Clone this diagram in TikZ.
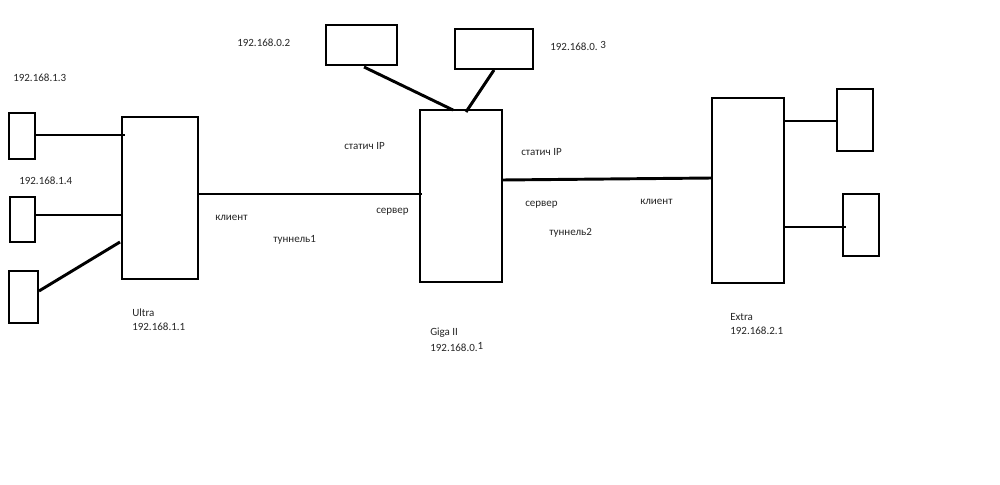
\documentclass[tikz,border=0pt]{standalone}
\usepackage{fontspec}
\setmainfont{Carlito}
\begin{document}
\begin{tikzpicture}[x=0.75pt,y=-0.75pt,
  box/.style={draw=black,line width=2.2pt,fill=none,inner sep=0pt,outer sep=0pt},
  wire/.style={draw=black,line width=2.2pt},
  lbl/.style={anchor=west,inner sep=0pt,font=\fontsize{8.25pt}{9.5pt}\selectfont,text=black!85}]
\useasboundingbox[fill=white] (0,0) rectangle (1000,485);
\newcommand\bx[5]{\node[box,minimum width={(#4-#2)*0.75pt},minimum height={(#5-#3)*0.75pt}] (#1) at ({(#2+#4)/2},{(#3+#5)/2}) {};}
% boxes
\bx{d1}{9}{113}{35}{159}
\bx{d2}{10}{197}{35}{242}
\bx{d3}{9}{271}{38}{323}
\bx{ultra}{122}{117}{198}{279}
\bx{giga}{420}{110}{502}{282}
\bx{t1}{326}{25}{397}{65}
\bx{t2}{455}{29}{533}{69}
\bx{extra}{712}{98}{784}{283}
\bx{r1}{837}{89}{873}{151}
\bx{r2}{843}{194}{879}{256}
% anchor coordinates
\coordinate (u1) at (125,135);
\coordinate (u2) at (122,215);
\coordinate (d3e) at (39,291);
\coordinate (u3) at (120,242);
\coordinate (g1) at (422,194);
\coordinate (t1b) at (364,67);
\coordinate (g2) at (453,110);
\coordinate (t2b) at (494,70);
\coordinate (g3) at (466,112);
\coordinate (g4) at (502,180);
\coordinate (e1) at (712,178);
\coordinate (r1w) at (837,121);
\coordinate (r2w) at (846,227);
% wires
\draw[wire] (d1.east |- u1) -- (u1);
\draw[wire] (d2.east |- u2) -- (u2);
\draw[wire] (d3e) -- (u3);
\draw[wire] (ultra.east |- g1) -- (g1);
\draw[wire] (t1b) -- (g2);
\draw[wire] (t2b) -- (g3);
\draw[wire] (g4) -- (e1);
\draw[wire] (extra.east |- r1w) -- (r1w);
\draw[wire] (extra.east |- r2w) -- (r2w);
% labels
\node[lbl] (l13) at (13,78) {192.168.1.3};
\node[lbl] (l14) at (19,181) {192.168.1.4};
\node[lbl] (lu) at (132,313) {Ultra};
\node[lbl] (lu2) at (132,327) {192.168.1.1};
\node[lbl] (l02) at (237,43) {192.168.0.2};
\node[lbl] (l03) at (550,46) {192.168.0.\hspace{2pt}\raisebox{1.5pt}{3}};
\node[lbl] (s1) at (344,146) {статич IP};
\node[lbl] (sv1) at (376,212) {сервер};
\node[lbl] (k1) at (215,218) {клиент};
\node[lbl] (tn1) at (273,240) {туннель1};
\node[lbl] (lg) at (430,333) {Giga II};
\node[lbl] (lg2) at (430,347) {192.168.0.\raisebox{1pt}{1}};
\node[lbl] (s2) at (521,152) {статич IP};
\node[lbl] (sv2) at (525,205) {сервер};
\node[lbl] (tn2) at (549,233) {туннель2};
\node[lbl] (k2) at (640,202) {клиент};
\node[lbl] (le) at (730,317) {Extra};
\node[lbl] (le2) at (730,331) {192.168.2.1};
\end{tikzpicture}
\end{document}
